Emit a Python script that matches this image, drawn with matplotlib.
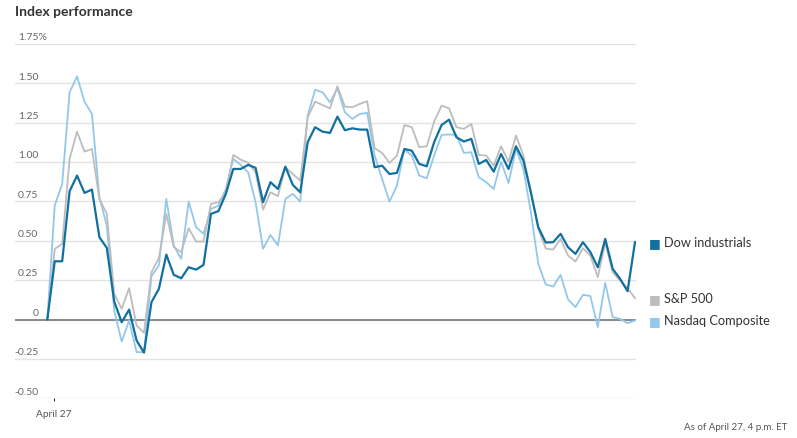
import matplotlib
matplotlib.use("Agg")
import matplotlib.pyplot as plt
import matplotlib.transforms as mtransforms
import numpy as np

plt.rcParams['font.family'] = ['Lato', 'DejaVu Sans']

# ---- data (percent change, 5-minute intervals) ----
dow = [0.0, 0.37, 0.37, 0.815, 0.914, 0.804, 0.825, 0.523, 0.455, 0.114,
       -0.017, 0.063, -0.133, -0.21, 0.11, 0.195, 0.412, 0.284, 0.262, 0.332,
       0.317, 0.347, 0.671, 0.688, 0.798, 0.956, 0.956, 0.982, 0.963, 0.745,
       0.872, 0.829, 0.971, 0.855, 0.808, 1.126, 1.221, 1.193, 1.185, 1.288,
       1.202, 1.214, 1.206, 1.206, 0.967, 0.977, 0.924, 0.931, 1.083, 1.072,
       0.988, 0.973, 1.126, 1.235, 1.269, 1.157, 1.13, 1.147, 0.988, 1.013,
       0.939, 1.051, 0.956, 1.1, 1.009, 0.808, 0.586, 0.489, 0.491, 0.544,
       0.459, 0.417, 0.491, 0.428, 0.332, 0.512, 0.322, 0.258, 0.18, 0.491]
sp500 = [0.0, 0.449, 0.48, 1.02, 1.193, 1.066, 1.083, 0.766, 0.671, 0.163,
         0.068, 0.199, -0.038, -0.084, 0.3, 0.391, 0.671, 0.459, 0.428, 0.58,
         0.495, 0.495, 0.734, 0.745, 0.808, 1.045, 1.015, 0.995, 0.935, 0.698,
         0.808, 0.783, 0.967, 0.924, 0.882, 1.284, 1.383, 1.362, 1.341, 1.481,
         1.352, 1.348, 1.369, 1.386, 1.088, 1.058, 0.994, 1.041, 1.235, 1.221,
         1.094, 1.1, 1.256, 1.358, 1.341, 1.221, 1.21, 1.242, 1.045, 1.041,
         0.977, 1.1, 1.003, 1.168, 1.041, 0.808, 0.575, 0.451, 0.444, 0.512,
         0.406, 0.368, 0.453, 0.406, 0.269, 0.487, 0.3, 0.247, 0.199, 0.136]
nasdaq = [0.0, 0.723, 0.861, 1.443, 1.544, 1.383, 1.305, 0.777, 0.596, 0.057,
          -0.14, -0.006, -0.207, -0.207, 0.275, 0.343, 0.766, 0.47, 0.385, 0.749,
          0.586, 0.544, 0.702, 0.723, 0.829, 1.02, 0.982, 0.935, 0.745, 0.449,
          0.537, 0.47, 0.766, 0.798, 0.749, 1.294, 1.459, 1.443, 1.379, 1.468,
          1.316, 1.274, 1.305, 1.312, 1.041, 0.893, 0.749, 0.85, 1.079, 1.041,
          0.914, 0.897, 1.041, 1.172, 1.175, 1.172, 1.058, 1.062, 0.904, 0.872,
          0.829, 1.003, 0.867, 1.083, 0.956, 0.681, 0.353, 0.223, 0.21, 0.284,
          0.127, 0.079, 0.157, 0.149, -0.048, 0.233, 0.015, 0.004, -0.023, -0.006]

series_names = ["Dow industrials", "S&P 500", "Nasdaq Composite"]
y_ticks = [-0.5, -0.25, 0, 0.25, 0.5, 0.75, 1.0, 1.25, 1.5, 1.75]
y_tick_labels = ["-0.50", "-0.25", "0", "0.25", "0.50", "0.75", "1.00", "1.25", "1.50", "1.75%"]
x_tick_label = "April 27"
title = "Index performance"
note = "As of April 27, 4 p.m. ET"

c_dow = "#11709f"
c_sp = "#bdbdbd"
c_nas = "#93c8ea"

W, H = 797, 439
fig = plt.figure(figsize=(W / 100, H / 100), dpi=100)
fig.patch.set_facecolor("white")

ax_l, ax_r = 15, 636
ax_t, ax_b = 44.9, 399.3
ax = fig.add_axes([ax_l / W, 1 - ax_b / H, (ax_r - ax_l) / W, (ax_b - ax_t) / H])

x = np.arange(len(dow))
ax.plot(x, nasdaq, color=c_nas, lw=1.3, zorder=3, clip_on=False)
ax.plot(x, sp500, color=c_sp, lw=1.3, zorder=4, clip_on=False)
ax.plot(x, dow, color=c_dow, lw=1.6, zorder=5, clip_on=False)

step = (635 - 47.3) / (len(dow) - 1)
ax.set_xlim(-(47.3 - ax_l) / step, len(dow) - 1 + (ax_r - 635) / step)
ax.set_ylim(-0.5, 1.75)

for s in ax.spines.values():
    s.set_visible(False)
ax.set_yticks(y_ticks)
ax.tick_params(axis='y', length=0, labelleft=False)
ax.yaxis.grid(True, color="#e3e3e3", lw=1)
ax.set_axisbelow(True)
ax.axhline(0, color="#8a8a8a", lw=1.4, zorder=2)

ax.set_xticks([0.85])
ax.set_xticklabels([x_tick_label], fontsize=7.3, color="#555555")
ax.tick_params(axis='x', length=2.5, width=0.8, color="#333333", pad=5)

# y labels above gridlines
blend = mtransforms.blended_transform_factory(ax.transAxes, ax.transData)
off = mtransforms.offset_copy(blend, fig=fig, x=0, y=2.0, units='points')
for v, lab in zip(y_ticks, y_tick_labels):
    if lab.endswith('%'):
        ax.text(3.2 / (ax_r - ax_l), v, lab, transform=off, ha='left', va='bottom',
                fontsize=7.5, color="#666666")
    else:
        ax.text(23.5 / (ax_r - ax_l), v, lab, transform=off, ha='right', va='bottom',
                fontsize=7.5, color="#666666")

# end labels (legend)
ends = [dow[-1], sp500[-1], nasdaq[-1]]
cols = [c_dow, c_sp, c_nas]
label_y = list(ends)
# separate overlapping labels (min gap in data units)
gap = 0.137
order = np.argsort(label_y)[::-1]
for a, b in zip(order[:-1], order[1:]):
    if label_y[a] - label_y[b] < gap:
        mid = (label_y[a] + label_y[b]) / 2
        label_y[a] = mid + gap / 2
        label_y[b] = mid - gap / 2
leg_t = mtransforms.blended_transform_factory(fig.transFigure, ax.transData)
for name, yv, c in zip(series_names, label_y, cols):
    ax.text(649 / W, yv, "\u25A0", transform=leg_t, ha='left', va='center',
            fontsize=9, color=c, family='DejaVu Sans', clip_on=False)
    ax.text(664 / W, yv, name, transform=leg_t, ha='left', va='center',
            fontsize=9.2, color="#333333", clip_on=False)

fig.text(15 / W, 1 - 12 / H, title, ha='left', va='center', fontsize=10,
         fontweight='bold', color="#333333")
fig.text(787 / W, 1 - 428 / H, note, ha='right', va='center', fontsize=7,
         color="#555555")

fig.savefig("out.png", dpi=100, facecolor="white")
